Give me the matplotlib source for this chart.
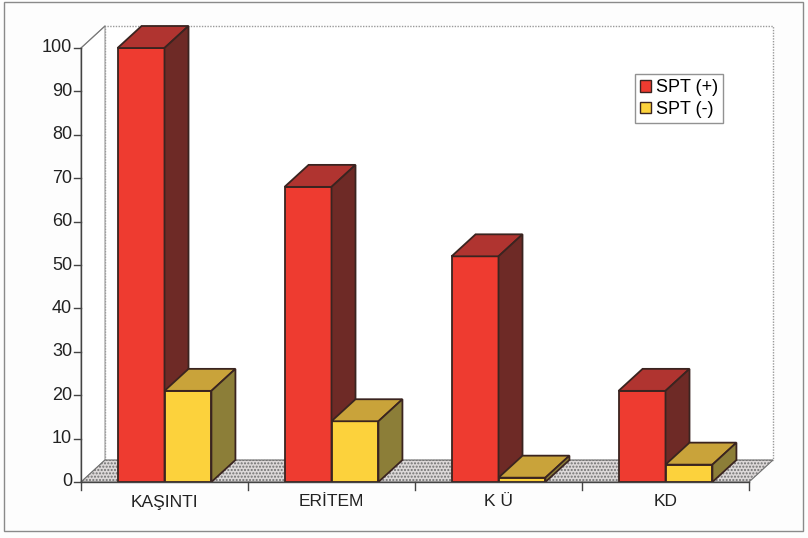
import matplotlib.pyplot as plt
from matplotlib.patches import Polygon, Rectangle, Patch

plt.rcParams['font.family'] = ['Liberation Sans', 'DejaVu Sans']
plt.rcParams['hatch.color'] = '#8a8888'

kategoriler = ['KAŞINTI', 'ERİTEM', 'K Ü', 'KD']
spt_pozitif = [100, 68, 52, 21]
spt_negatif = [21, 14, 1, 4]
seriler = ['SPT (+)', 'SPT (-)']
yticks = list(range(0, 101, 10))

# renkler: on yuz, ust yuz, yan yuz
kirmizi = ('#ee3b30', '#b03430', '#6e2a26')
sari = ('#fcd23c', '#c9a33a', '#8c7e38')
kenar = '#3a2420'

fig = plt.figure(figsize=(8.08, 5.38), dpi=100)
fig.patch.set_facecolor('#fdfdfd')
ax = fig.add_axes([0, 0, 1, 1])
ax.set_xlim(-81/167, 727/167)
ax.set_ylim(-56/4.34, 482/4.34)
ax.axis('off')

n = len(kategoriler)
dx = 24/167   # derinlik (kategori birimi)
dy = 22/4.34  # derinlik (deger birimi)
w = 0.281     # cubuk genisligi
ymax = 100

# dis cerceve
ax.add_patch(Rectangle((-77/167, -49/4.34), 799/167, 529/4.34, fill=False,
                       ec='#8a8a8a', lw=1.0, clip_on=False))

# arka duvar ve sol duvar
ax.add_patch(Polygon([(dx, dy), (n+dx, dy), (n+dx, ymax+dy), (dx, ymax+dy)],
                     fc='white', ec='#9a9a9a', lw=1.0, ls=(0, (1, 1))))
ax.add_patch(Polygon([(0, 0), (dx, dy), (dx, ymax+dy), (0, ymax)],
                     fc='white', ec='#9a9a9a', lw=0.8))
# zemin
ax.add_patch(Polygon([(0, 0), (n, 0), (n+dx, dy), (dx, dy)],
                     fc='#dcd8d8', ec='#707070', lw=0.8, hatch='.....'))

# eksenler
ax.plot([0, 0], [0, ymax], color='#444', lw=1.0)
ax.plot([0, dx], [ymax, ymax+dy], color='#777', lw=0.8)
ax.plot([0, n], [0, 0], color='#444', lw=1.0)
for t in yticks:
    ax.plot([-7/167, 0], [t, t], color='#444', lw=1.0)
    ax.text(-9/167, t, str(t), ha='right', va='center', fontsize=13, color='#222')
for i in range(n + 1):
    ax.plot([i, i], [0, -8/4.34], color='#444', lw=1.0)
for i, k in enumerate(kategoriler):
    ax.text(i + 0.5, -20/4.34, k, ha='center', va='center', fontsize=12.5, color='#222')


def cubuk(x, v, renk):
    on, ust, yan = renk
    ax.add_patch(Polygon([(x, 0), (x+w, 0), (x+w, v), (x, v)], fc=on, ec=kenar, lw=1.3))
    ax.add_patch(Polygon([(x, v), (x+w, v), (x+w+dx, v+dy), (x+dx, v+dy)],
                         fc=ust, ec=kenar, lw=1.3))
    ax.add_patch(Polygon([(x+w, 0), (x+w+dx, dy), (x+w+dx, v+dy), (x+w, v)],
                         fc=yan, ec=kenar, lw=1.3))


for i in range(n):
    cubuk(i + 0.5 - w, spt_pozitif[i], kirmizi)
    cubuk(i + 0.5, spt_negatif[i], sari)

handles = [Patch(fc=kirmizi[0], ec=kenar), Patch(fc=sari[0], ec=kenar)]
fig.legend(handles, seriler, loc='upper left', bbox_to_anchor=(635/808, 1 - 74/538),
           fontsize=13, frameon=True, fancybox=False, edgecolor='#777',
           handlelength=0.6, handleheight=0.6, handletextpad=0.25,
           borderpad=0.3, labelspacing=0.25, borderaxespad=0)

fig.savefig('out.png', dpi=100, facecolor=fig.get_facecolor())
